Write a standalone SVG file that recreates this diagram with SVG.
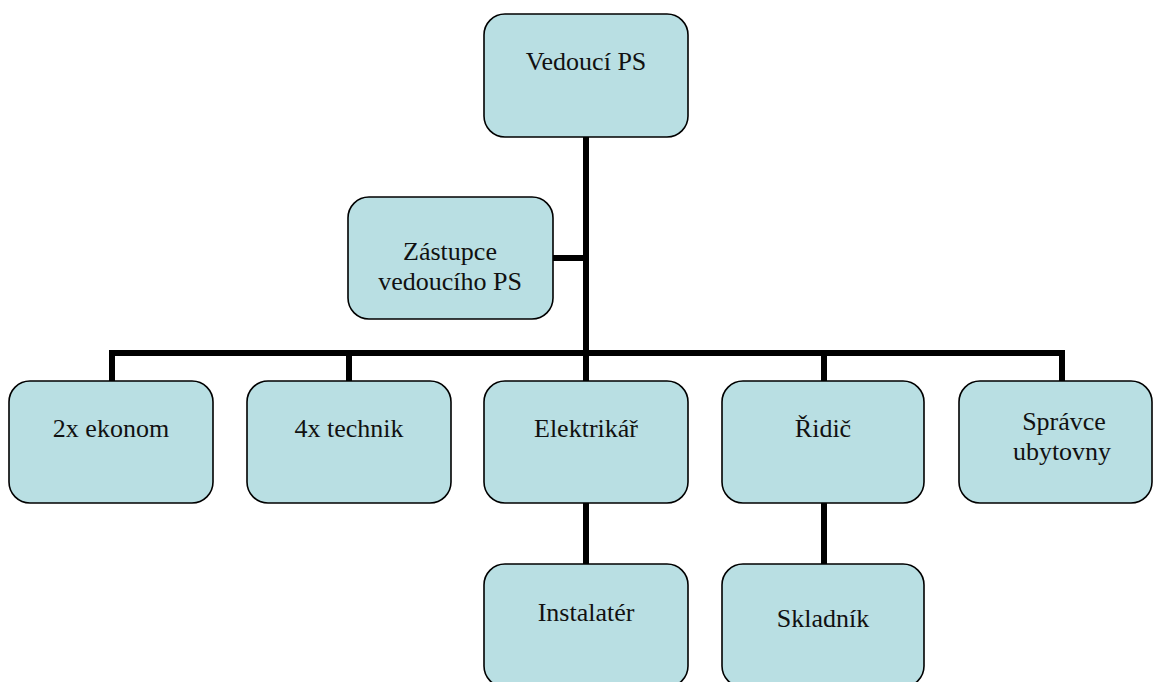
<svg xmlns="http://www.w3.org/2000/svg" width="1154" height="682" viewBox="0 0 1154 682">
  <style>
    .box { fill: #B9DFE3; stroke: #000; stroke-width: 1.6; }
    .lbl { font-family: 'Liberation Serif', Tinos, 'Times New Roman', Times, 'DejaVu Serif', serif; font-size: 26px; fill: #111; text-anchor: middle; }
    .conn { stroke: #000; stroke-width: 6; fill: none; stroke-linecap: butt; }
  </style>
  <rect width="1154" height="682" fill="#fff"/>

  <!-- connectors -->
  <g id="connectors">
    <path class="conn" d="M586 137 V356"/>
    <path class="conn" d="M553 258 H586"/>
    <path class="conn" d="M112 381 V353 H1062 V381"/>
    <path class="conn" d="M349 353 V381"/>
    <path class="conn" d="M586 353 V381"/>
    <path class="conn" d="M824 353 V381"/>
    <path class="conn" d="M586 503 V564"/>
    <path class="conn" d="M824 503 V564"/>
  </g>

  <g id="vedouci">
    <rect class="box" x="484" y="14" width="204" height="123" rx="21"/>
    <text class="lbl" x="586" y="70" font-family="Liberation Serif, serif">Vedoucí PS</text>
  </g>

  <g id="zastupce">
    <rect class="box" x="348" y="197" width="205" height="122" rx="21"/>
    <text class="lbl" x="450" y="260">Zástupce</text>
    <text class="lbl" x="450" y="290">vedoucího PS</text>
  </g>

  <g id="ekonom">
    <rect class="box" x="9" y="381" width="204" height="122" rx="21"/>
    <text class="lbl" x="111" y="437">2x ekonom</text>
  </g>

  <g id="technik">
    <rect class="box" x="247" y="381" width="204" height="122" rx="21"/>
    <text class="lbl" x="349" y="437">4x technik</text>
  </g>

  <g id="elektrikar">
    <rect class="box" x="484" y="381" width="204" height="122" rx="21"/>
    <text class="lbl" x="586" y="437">Elektrikář</text>
  </g>

  <g id="ridic">
    <rect class="box" x="722" y="381" width="202" height="122" rx="21"/>
    <text class="lbl" x="823" y="437">Řidič</text>
  </g>

  <g id="spravce">
    <rect class="box" x="959" y="381" width="193" height="122" rx="21"/>
    <text class="lbl" x="1064" y="430">Správce</text>
    <text class="lbl" x="1062" y="460">ubytovny</text>
  </g>

  <g id="instalater">
    <rect class="box" x="484" y="564" width="204" height="123" rx="21"/>
    <text class="lbl" x="586" y="621">Instalatér</text>
  </g>

  <g id="skladnik">
    <rect class="box" x="722" y="564" width="202" height="123" rx="21"/>
    <text class="lbl" x="823" y="627">Skladník</text>
  </g>
</svg>
